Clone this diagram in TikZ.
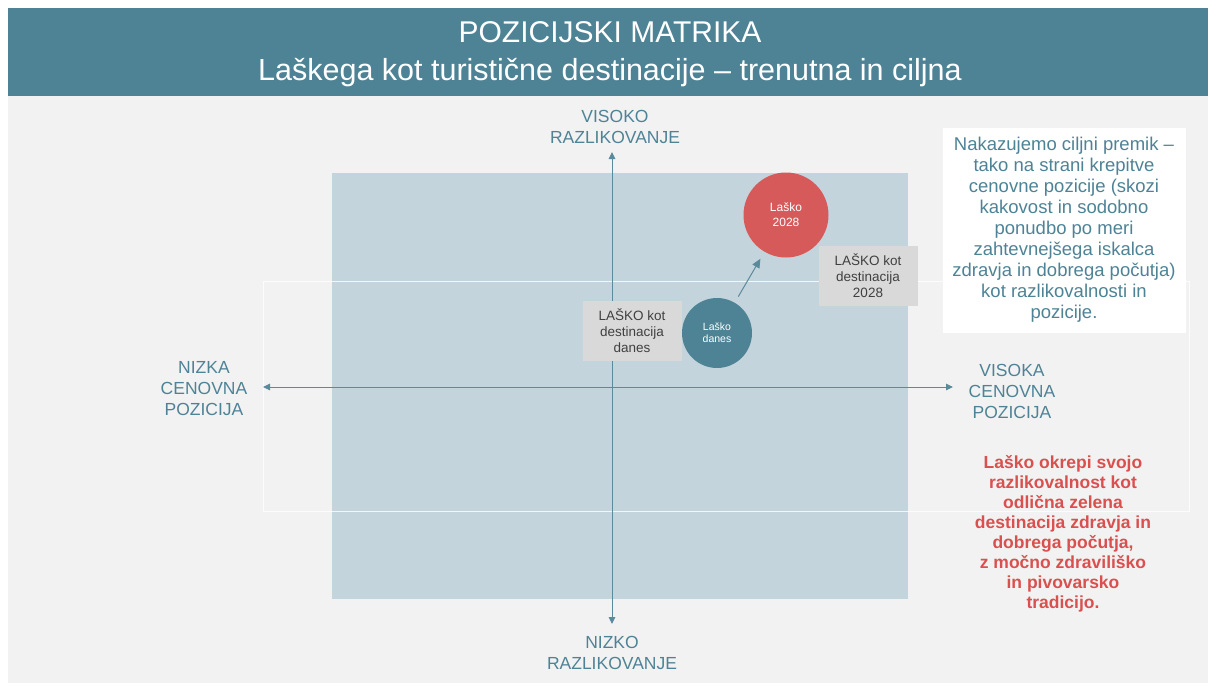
\documentclass[tikz,border=0pt]{standalone}
\usepackage{fontspec}
\setmainfont{Liberation Sans}
\usetikzlibrary{arrows.meta}
\definecolor{headteal}{HTML}{4E8396}
\definecolor{axisteal}{HTML}{5A8B9D}
\definecolor{panelgray}{HTML}{F2F2F2}
\definecolor{fieldblue}{HTML}{C4D4DC}
\definecolor{markred}{HTML}{D65A5A}
\definecolor{notered}{HTML}{D9504F}
\definecolor{taggray}{HTML}{D9D9D9}
\definecolor{tagtext}{HTML}{404040}

\begin{document}
\begin{tikzpicture}[x=1pt,y=1pt,
		axis/.style={axisteal,line width=1pt,{Triangle[length=7pt,width=6.5pt]}-{Triangle[length=7pt,width=6.5pt]}},
		move/.style={axisteal,line width=1pt,-{Triangle[length=9pt,width=8pt]},shorten <=7pt,shorten >=8pt},
		axislabel/.style={text=headteal,align=center,font=\fontsize{17.5}{21}\selectfont},
		tag/.style={fill=taggray,text=tagtext,align=center,minimum width=99pt,minimum height=60pt,font=\fontsize{13.5}{16}\selectfont},
		spot/.style={circle,text=white,align=center}]
		\tikzstyle{every node}+=[inner sep=0pt]
		\useasboundingbox (0,0) rectangle (1208,-683);
		\fill [white] (0,0) rectangle (1208,-683);
		\fill [panelgray] (8,-8) rectangle (1208,-683);
		\fill [headteal] (8,-8) rectangle (1208,-96);
		\node [text=white,font=\fontsize{30}{36}\selectfont] (title) at (610,-32) {POZICIJSKI MATRIKA};
		\node [text=white,font=\fontsize{30.5}{36}\selectfont] (subtitle) at (610,-73) {Laškega kot turistične destinacije – trenutna in ciljna};
		\fill [fieldblue] (332,-173) rectangle (908,-599);
		\draw [white,opacity=0.8,line width=0.8pt] (263,-281) rectangle (1189,-511);
		\coordinate (west) at (263,-387);
		\coordinate (east) at (953,-387);
		\coordinate (north) at (612,-152);
		\coordinate (south) at (612,-624);
		\draw [axis] (west) -- (east);
		\draw [axis] (south) -- (north);
		\node [axislabel] (high diff) at (615,-127) {VISOKO\\RAZLIKOVANJE};
		\node [axislabel] (low diff) at (612,-653) {NIZKO\\RAZLIKOVANJE};
		\node [axislabel] (low price) at (204,-389) {NIZKA\\CENOVNA\\POZICIJA};
		\node [axislabel] (high price) at (1012,-391) {VISOKA\\CENOVNA\\POZICIJA};
		\node [tag] (today tag) at (632,-331) {LAŠKO kot\\destinacija\\danes};
		\node [tag] (goal tag) at (868,-276) {LAŠKO kot\\destinacija\\2028};
		\node [spot,fill=headteal,minimum size=70pt,font=\fontsize{10.5}{12}\selectfont] (today) at (717,-333) {Laško\\danes};
		\node [spot,fill=markred,minimum size=85pt,font=\fontsize{12}{15}\selectfont] (goal) at (786,-215) {Laško\\2028};
		\draw [move] (today) -- (goal);
		\node [fill=white,text=headteal,minimum width=243pt,minimum height=205pt,align=center,font=\fontsize{18.5}{21}\selectfont] (note) at (1064,-230) {Nakazujemo ciljni premik –\\tako na strani krepitve\\cenovne pozicije (skozi\\kakovost in sodobno\\ponudbo po meri\\zahtevnejšega iskalca\\zdravja in dobrega počutja)\\kot razlikovalnosti in\\pozicije.};
		\node [text=notered,align=center,font=\bfseries\fontsize{17.5}{20}\selectfont] (claim) at (1063,-534) {Laško okrepi svojo\\razlikovalnost kot\\odlična zelena\\destinacija zdravja in\\dobrega počutja,\\z močno zdraviliško\\in pivovarsko\\tradicijo.};
	\end{tikzpicture}
\end{document}
